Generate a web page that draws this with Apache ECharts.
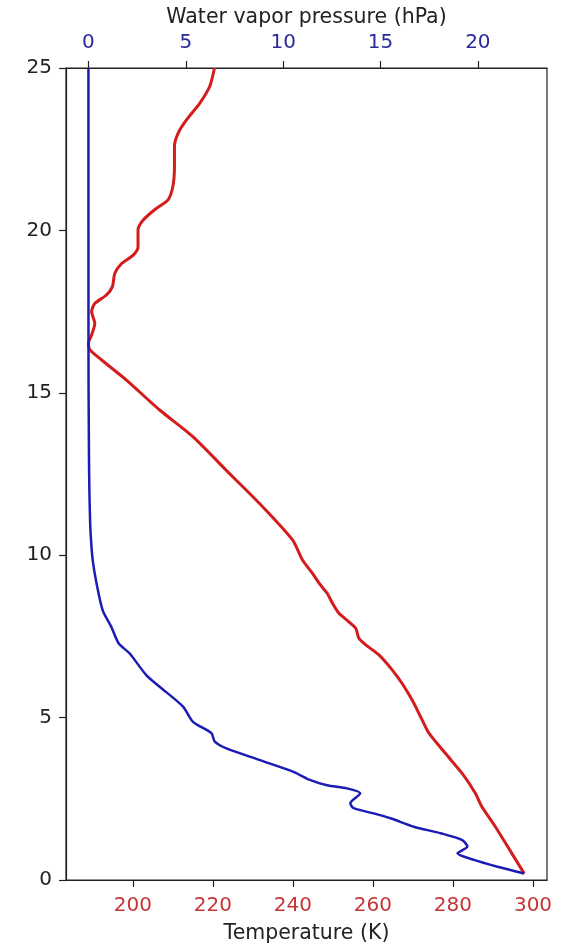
<!DOCTYPE html>
<html>
<head>
<meta charset="utf-8">
<script src="https://cdn.jsdelivr.net/npm/echarts@6/dist/echarts.min.js"></script>
<style>html,body{margin:0;padding:0;background:#fff}#c{width:572px;height:945px}</style>
</head>
<body>
<div id="c"></div>
<script>
// Temperature profile (altitude km, temperature K)
var tempAlt = [0.2, 0.82, 1.64, 2.26, 2.67, 3.28, 3.90, 4.52, 4.93, 5.54, 6.05, 6.47, 6.93, 7.24, 7.44, 7.75, 7.95, 8.21, 8.52, 8.82, 9.13, 9.44, 9.85, 10.47, 11.60, 12.62, 13.65, 14.47, 15.39, 16.01, 16.32, 16.52, 16.78, 17.14, 17.50, 17.75, 18.01, 18.27, 18.68, 18.98, 19.24, 19.50, 20.01, 20.32, 20.68, 20.94, 21.35, 21.96, 22.58, 22.99, 23.40, 23.91, 24.43, 25.0];
var tempK = [297.8, 294.7, 290.6, 287.2, 285.6, 282.3, 278.1, 274.0, 272.3, 269.8, 267.3, 264.8, 261.5, 258.2, 256.5, 255.7, 254.0, 251.5, 249.9, 248.6, 246.6, 244.9, 242.4, 239.9, 231.6, 223.3, 215.0, 206.7, 198.4, 192.2, 189.3, 188.9, 189.7, 190.5, 189.7, 190.5, 193.4, 194.9, 195.5, 197.2, 200.1, 201.3, 201.3, 202.6, 205.9, 208.8, 210.0, 210.4, 210.4, 211.3, 213.4, 216.7, 219.2, 220.4];
// Water vapor profile (altitude km, pressure hPa)
var vaporAlt = [0.2, 0.41, 0.62, 0.82, 1.03, 1.23, 1.44, 1.64, 1.90, 2.05, 2.21, 2.36, 2.67, 2.82, 2.92, 3.10, 3.33, 3.69, 4.05, 4.26, 4.52, 4.87, 5.34, 5.95, 6.31, 6.98, 7.28, 7.80, 8.31, 9.13, 9.85, 10.47, 11.0, 12.0, 13.0, 14.0, 15.0, 16.3, 20.0, 25.0];
var vaporHPa = [22.38, 21.01, 19.8, 18.95, 19.46, 19.2, 18.09, 16.71, 15.51, 14.65, 13.62, 13.45, 13.96, 13.28, 12.25, 11.3, 10.53, 8.81, 7.09, 6.49, 6.32, 5.37, 4.86, 3.66, 2.97, 2.11, 1.56, 1.17, 0.73, 0.42, 0.22, 0.135, 0.09, 0.05, 0.03, 0.02, 0.01, 0.005, 0.003, 0.002];
// Tick labels
var tempTicks = [200, 220, 240, 260, 280, 300];
var vaporTicks = [0, 5, 10, 15, 20];
var altTicks = [0, 5, 10, 15, 20, 25];

var FONT = 'DejaVu Sans';
var chart = echarts.init(document.getElementById('c'), null, {renderer: 'canvas'});
function pairs(xs, ys) { return xs.map(function (x, i) { return [x, ys[i]]; }); }

chart.setOption({
  backgroundColor: '#ffffff',
  animation: false,
  grid: {left: 66, right: 25, top: 68, bottom: 65, containLabel: false, outerBoundsMode: 'none',
    show: true, borderColor: '#222', borderWidth: 1.2, backgroundColor: 'transparent'},
  xAxis: [
    {
      type: 'value', position: 'bottom', min: 183.3, max: 303.5,
      name: 'Temperature (K)', nameLocation: 'middle', nameGap: 43,
      nameTextStyle: {fontFamily: FONT, fontSize: 20.5, color: '#222'},
      axisLine: {show: true, onZero: false, lineStyle: {color: '#222', width: 1.2}},
      axisTick: {show: true, length: 7, customValues: tempTicks, lineStyle: {color: '#222', width: 1.2}},
      axisLabel: {customValues: tempTicks, margin: 16, fontFamily: FONT, fontSize: 20, color: '#c83434'},
      splitLine: {show: false}
    },
    {
      type: 'value', position: 'top', min: -1.15, max: 23.55,
      name: 'Water vapor pressure (hPa)', nameLocation: 'middle', nameGap: 40,
      nameTextStyle: {fontFamily: FONT, fontSize: 20.5, color: '#222'},
      axisLine: {show: true, onZero: false, lineStyle: {color: '#222', width: 1.2}},
      axisTick: {show: true, length: 7, customValues: vaporTicks, lineStyle: {color: '#222', width: 1.2}},
      axisLabel: {customValues: vaporTicks, margin: 15, fontFamily: FONT, fontSize: 20, color: '#2a2a9e'},
      splitLine: {show: false}
    }
  ],
  yAxis: {
    type: 'value', min: 0, max: 25, interval: 5,
    axisLine: {show: true, onZero: false, lineStyle: {color: '#222', width: 1.2}},
    axisTick: {show: true, length: 7, lineStyle: {color: '#222', width: 1.2}},
    axisLabel: {margin: 14, fontFamily: FONT, fontSize: 20, color: '#222',
      formatter: function (v) { return altTicks.indexOf(v) >= 0 ? String(v) : ''; }},
    splitLine: {show: false}
  },
  series: [
    {
      type: 'line', xAxisIndex: 0, yAxisIndex: 0, data: pairs(tempK, tempAlt),
      showSymbol: false, smooth: 0.25, lineStyle: {color: '#d41c1c', width: 3}, z: 2
    },
    {
      type: 'line', xAxisIndex: 1, yAxisIndex: 0, data: pairs(vaporHPa, vaporAlt),
      showSymbol: false, smooth: 0.25, lineStyle: {color: '#1c1cb4', width: 2.5}, z: 3
    }
  ]
});
</script>
</body>
</html>
